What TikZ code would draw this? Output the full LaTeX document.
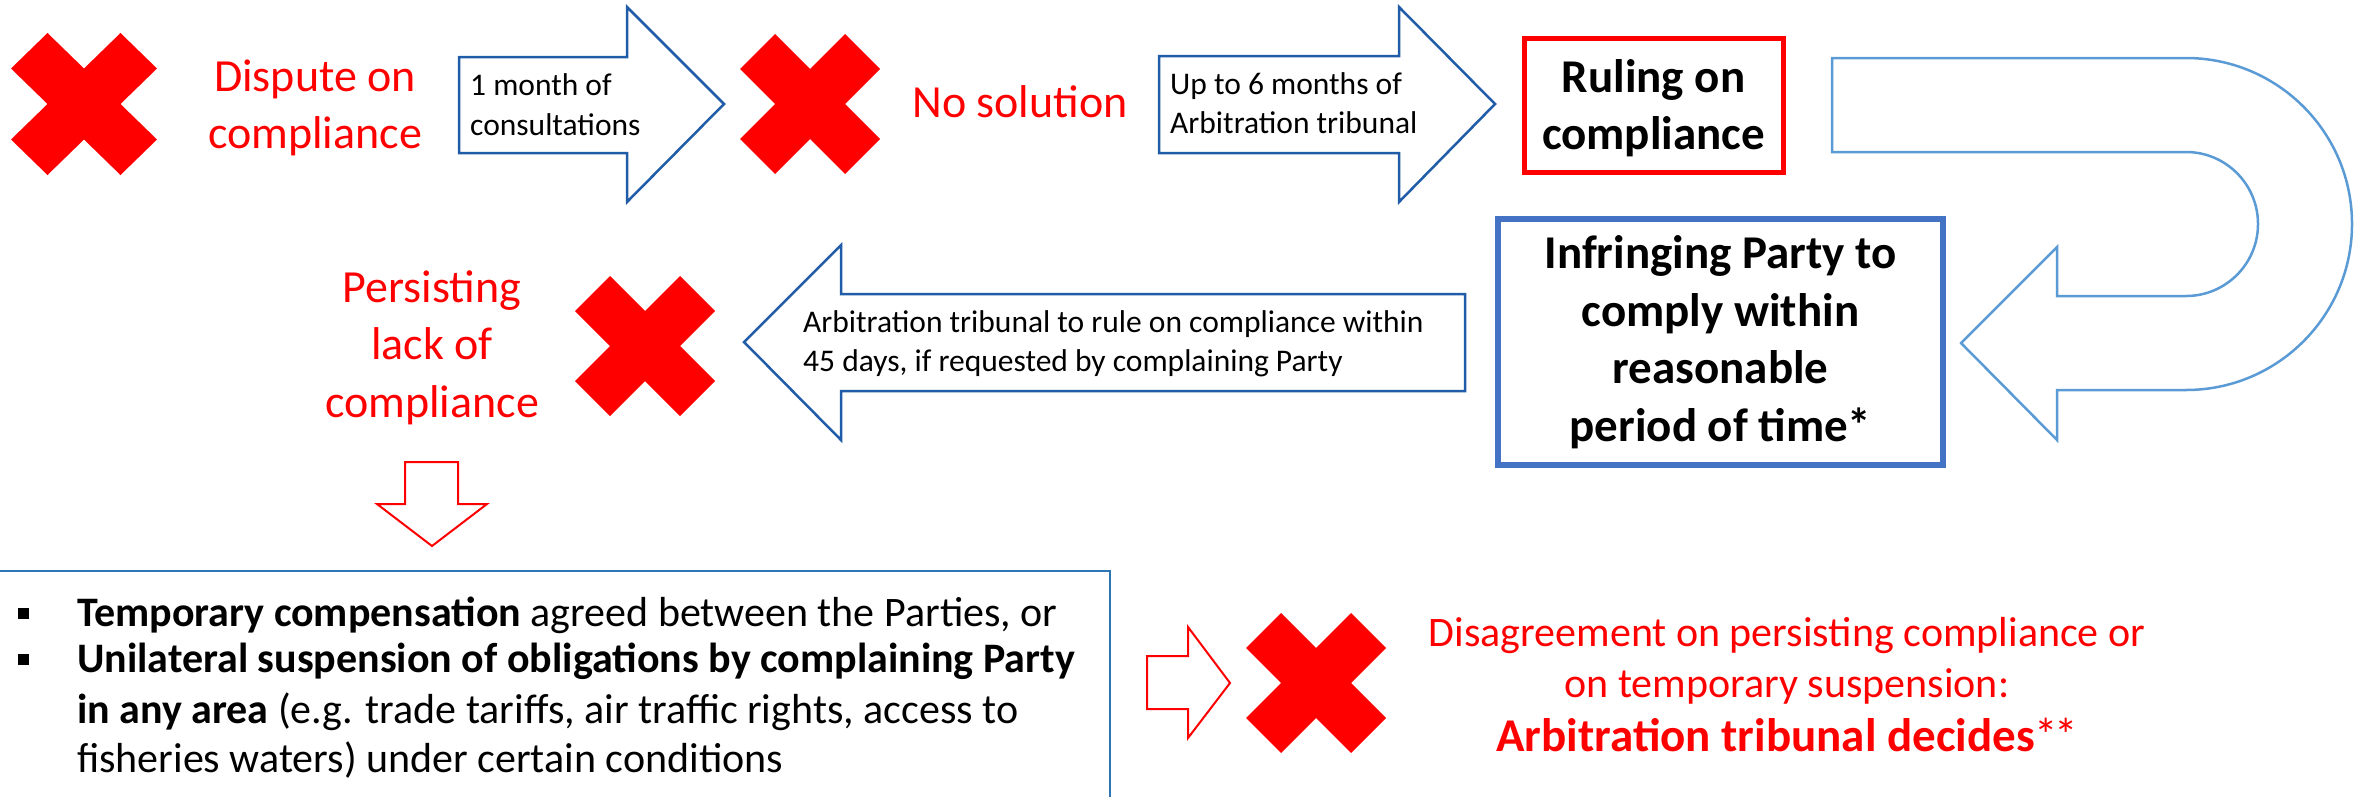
\documentclass[tikz,border=0pt]{standalone}
\usepackage{fontspec}
\setmainfont{Carlito}
\definecolor{arrowblue}{RGB}{32,92,168}
\definecolor{ublue}{RGB}{91,155,213}
\definecolor{boxblue}{RGB}{68,114,196}
\definecolor{listblue}{RGB}{46,117,182}
\newcommand\mybul{\raisebox{7pt}{\rule{11pt}{11pt}}\hspace{48pt}}
\tikzset{
  redcross/.pic={\fill[red] (-1,-0.5) -- (-0.5,-1) -- (0,-0.5) -- (0.5,-1) -- (1,-0.5) -- (0.5,0) -- (1,0.5) -- (0.5,1) -- (0,0.5) -- (-0.5,1) -- (-1,0.5) -- (-0.5,0) -- cycle;},
  blockarrow/.style={draw=arrowblue, line width=2.5pt, fill=white, line join=miter},
  redarrow/.style={draw=red, line width=2pt, fill=white, line join=miter},
  uturn/.style={draw=ublue, line width=2.5pt, fill=white},
  redtxt/.style={text=red, align=center, inner sep=0pt},
  blacktxt/.style={text=black, align=left, inner sep=0pt},
  rulebox/.style={draw=red, line width=5pt, minimum width=259pt, minimum height=134pt, align=center, inner sep=0pt, text height=88pt, text depth=0pt, font=\fontsize{47}{57}\selectfont\bfseries},
  infbox/.style={draw=boxblue, line width=6pt, minimum width=445pt, minimum height=246pt, align=center, inner sep=0pt, text height=198pt, text depth=0pt, font=\fontsize{47}{57.5}\selectfont\bfseries},
}
\begin{document}
\begin{tikzpicture}[x=1pt,y=-1pt]
\useasboundingbox (0,0) rectangle (2374,796);
% crosses
\pic[xscale=73,yscale=71] (xa) at (84,104) {redcross};
\pic[scale=70] (xb) at (810,104) {redcross};
\pic[scale=70] (xc) at (645,346) {redcross};
\pic[scale=70] (xd) at (1316,683) {redcross};
% arrow 1
\coordinate (a1t) at (724,104);
\draw[blockarrow] (459,57) -- (627,57) -- (627,7) -- (a1t) -- (627,202) -- (627,153) -- (459,153) -- cycle;
\node[blacktxt, anchor=base west, font=\fontsize{31.5}{39.5}\selectfont] (a1txt) at (470,135) {1 month of\\consultations};
% arrow 2
\coordinate (a2t) at (1495,104);
\draw[blockarrow] (1159,56) -- (1399,56) -- (1399,7) -- (a2t) -- (1399,202) -- (1399,153) -- (1159,153) -- cycle;
\node[blacktxt, anchor=base west, font=\fontsize{31.5}{38.5}\selectfont] (a2txt) at (1170,133) {Up to 6 months of\\Arbitration tribunal};
% arrow 3 (left)
\coordinate (a3t) at (744,342);
\draw[blockarrow] (1465,294) -- (841,294) -- (841,245) -- (a3t) -- (841,440) -- (841,391) -- (1465,391) -- cycle;
\node[blacktxt, anchor=base west, font=\fontsize{31.5}{39}\selectfont] (a3txt) at (803,371) {Arbitration tribunal to rule on compliance within\\45 days, if requested by complaining Party};
% U-turn arrow
\coordinate (ut) at (1961,343);
\draw[uturn] (1832,58) -- (2186,58) arc[start angle=90, end angle=-90, radius=166pt] -- (2057,390) -- (2057,440) -- (ut) -- (2057,247) -- (2057,296) -- (2186,296) arc[start angle=-90, end angle=90, radius=72pt] -- (1832,152) -- cycle;
% texts
\node[redtxt, anchor=base, font=\fontsize{46}{57}\selectfont] (t1) at (315,148) {Dispute on\\compliance};
\node[redtxt, anchor=base, font=\fontsize{46}{57}\selectfont] (t2) at (1020,117) {No solution};
\node[rulebox] (ruling) at (1653.5,105) {Ruling on\\compliance};
\node[infbox] (infr) at (1720.5,342) {Infringing Party to\\comply within\\reasonable\\period of time*};
\node[redtxt, anchor=base, font=\fontsize{46}{57.5}\selectfont] (t6) at (432,417) {Persisting\\lack of\\compliance};
% down arrow
\draw[redarrow] (405,462) -- (458,462) -- (458,504) -- (487,504) -- (432,546) -- (377,504) -- (405,504) -- cycle;
% bottom list box
\draw[listblue, line width=2pt] (-3,571) rectangle (1110,800);
\node[blacktxt, anchor=base west, font=\fontsize{42}{49}\selectfont] (list) at (77,772) {\llap{\mybul}\textbf{Temporary compensation} agreed between the Parties, or\\[-3pt]
\llap{\mybul}\textbf{Unilateral suspension of obligations by complaining Party}\\[2pt]
\textbf{in any area} (e.g. trade tariffs, air traffic rights, access to\\
fisheries waters) under certain conditions};
% small right arrow
\draw[redarrow] (1147,656) -- (1188,656) -- (1188,627) -- (1230,683) -- (1188,738) -- (1188,709) -- (1147,709) -- cycle;
\node[redtxt, anchor=base, font=\fontsize{42}{51}\selectfont] (t9) at (1787,751) {Disagreement on persisting compliance or\\on temporary suspension:\\[3pt]{\fontsize{47}{53}\selectfont\textbf{Arbitration tribunal decides}*\kern-4pt*}};
\end{tikzpicture}
\end{document}
